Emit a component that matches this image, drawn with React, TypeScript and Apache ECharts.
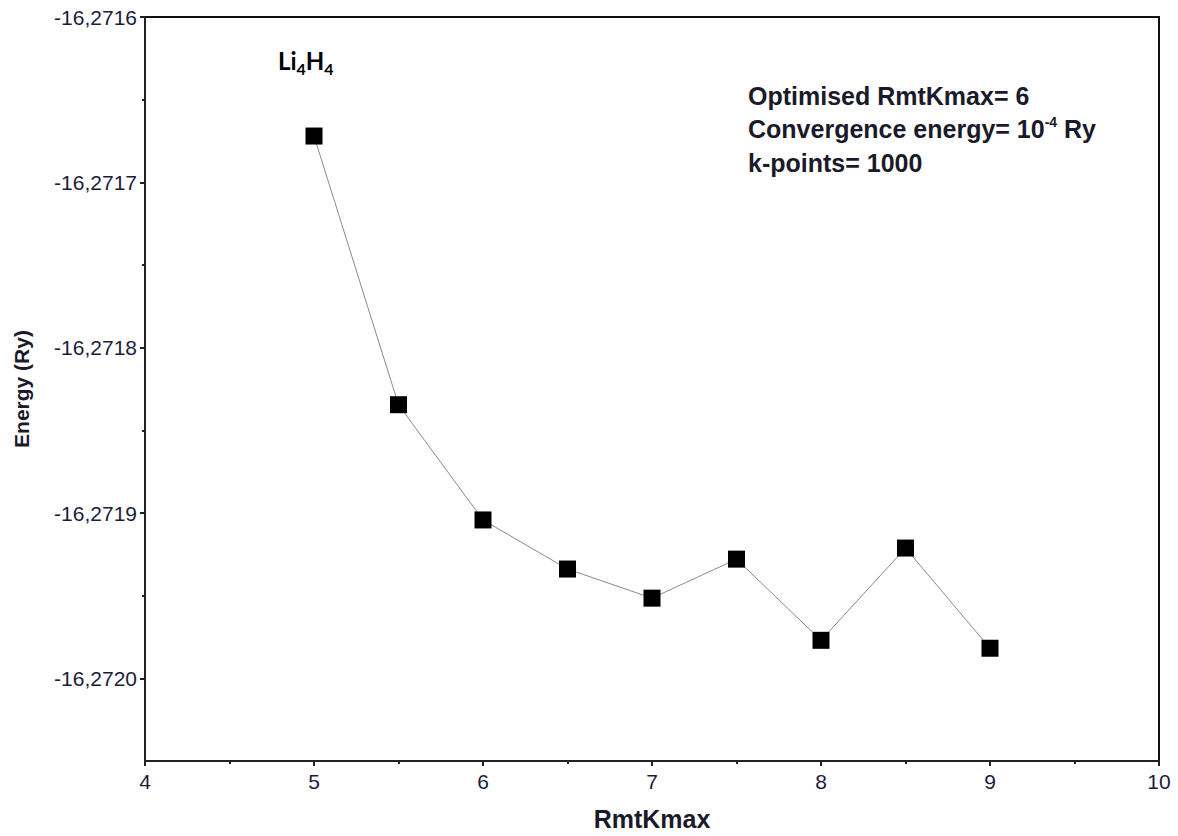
import React, { useEffect, useRef } from "react";
import * as echarts from "echarts";

const rmtKmax = [5, 5.5, 6, 6.5, 7, 7.5, 8, 8.5, 9];
const energy = [-16.271672, -16.2718345, -16.2719042, -16.2719339, -16.2719515, -16.2719279, -16.271977, -16.2719212, -16.2719818];
const yMajorTicks = [-16.272, -16.2719, -16.2718, -16.2717, -16.2716];
const yMinorTicks = [-16.27195, -16.27185, -16.27175, -16.27165];
const xMajorTicks = [4, 5, 6, 7, 8, 9, 10];
const xMinorTicks = [4.5, 5.5, 6.5, 7.5, 8.5, 9.5];
const annotationLines = ["Optimised RmtKmax= 6", "Convergence energy= 10", "k-points= 1000"];

export default function App() {
  const ref = useRef<HTMLDivElement>(null);
  useEffect(() => {
    if (!ref.current) return;
    const chart = echarts.init(ref.current, undefined, { renderer: "svg" });
    const font = "'Liberation Sans', Arial, sans-serif";
    const labelStyle = { color: "#1c1c3c", fontSize: 21, fontFamily: font };
    const fmtY = (v: number) => v.toFixed(4).replace(".", ",");
    const yMin = -16.27205;
    const yMax = -16.2716;
    const xAxisBase = { type: "value", min: 4, max: 10, gridIndex: 0 };
    const yAxisBase = { type: "value", min: yMin, max: yMax, gridIndex: 0 };
    chart.setOption({
      animation: false,
      backgroundColor: "#fff",
      grid: { left: 145, right: 19, top: 17, bottom: 74, show: true, borderColor: "#111", borderWidth: 2, backgroundColor: "transparent" },
      xAxis: [
        {
          ...xAxisBase,
          name: "RmtKmax",
          nameLocation: "middle",
          nameGap: 45,
          nameTextStyle: { color: "#1a1a2a", fontSize: 25, fontWeight: "bold", fontFamily: font },
          axisLine: { show: true, lineStyle: { color: "#222", width: 2 } },
          axisTick: { show: true, length: 5, lineStyle: { color: "#222", width: 2 }, customValues: xMajorTicks },
          axisLabel: { ...labelStyle, margin: 10, customValues: xMajorTicks, formatter: (v: number) => String(v) },
          splitLine: { show: false },
        },
        {
          ...xAxisBase,
          position: "bottom",
          axisLine: { show: false },
          axisTick: { show: true, length: 3, lineStyle: { color: "#222", width: 2 }, customValues: xMinorTicks },
          axisLabel: { show: false },
          splitLine: { show: false },
        },
      ],
      yAxis: [
        {
          ...yAxisBase,
          name: "Energy (Ry)",
          nameLocation: "middle",
          nameGap: 113,
          nameRotate: 90,
          nameTextStyle: { color: "#1a1a2a", fontSize: 21, fontWeight: "bold", fontFamily: font },
          axisLine: { show: true, lineStyle: { color: "#222", width: 2 } },
          axisTick: { show: true, length: 5, lineStyle: { color: "#222", width: 2 }, customValues: yMajorTicks },
          axisLabel: { ...labelStyle, margin: 8, customValues: yMajorTicks, formatter: fmtY },
          splitLine: { show: false },
        },
        {
          ...yAxisBase,
          position: "left",
          axisLine: { show: false },
          axisTick: { show: true, length: 3, lineStyle: { color: "#222", width: 2 }, customValues: yMinorTicks },
          axisLabel: { show: false },
          splitLine: { show: false },
        },
      ],
      series: [
        {
          type: "line",
          xAxisIndex: 0,
          yAxisIndex: 0,
          data: rmtKmax.map((x, i) => [x, energy[i]]),
          symbol: "rect",
          symbolSize: 17,
          lineStyle: { color: "#8a8a8a", width: 1 },
          itemStyle: { color: "#000" },
          z: 5,
        },
      ],
      graphic: [
        {
          type: "text",
          left: 278,
          top: 48,
          style: {
            text: "{a|Li}{s|4}{a|H}{s|4}",
            rich: {
              a: { fontSize: 24, fontWeight: "bold", fontFamily: "Lato, 'Open Sans', sans-serif", fill: "#000", lineHeight: 28, verticalAlign: "bottom" },
              s: { fontSize: 16, fontWeight: "bold", fontFamily: "Lato, 'Open Sans', sans-serif", fill: "#000", lineHeight: 28, verticalAlign: "bottom", padding: [0, 0, -4, 0] },
            },
          },
        },
        {
          type: "text",
          left: 748,
          top: 79,
          style: {
            text: annotationLines[0] + "\n" + annotationLines[1] + "{sup|-4}{n| Ry}\n" + annotationLines[2],
            font: "bold 25px 'Liberation Sans', Arial, sans-serif",
            fill: "#1a1a2a",
            lineHeight: 33.5,
            rich: {
              sup: { fontSize: 14, fontWeight: "bold", fontFamily: font, fill: "#1a1a2a", lineHeight: 33.5, padding: [0, 0, 14, 0] },
              n: { fontSize: 25, fontWeight: "bold", fontFamily: font, fill: "#1a1a2a", lineHeight: 33.5 },
            },
          },
        },
      ],
    });
    return () => chart.dispose();
  }, []);
  return <div ref={ref} style={{ position: "fixed", left: 0, top: 0, width: 1178, height: 836 }} />;
}
